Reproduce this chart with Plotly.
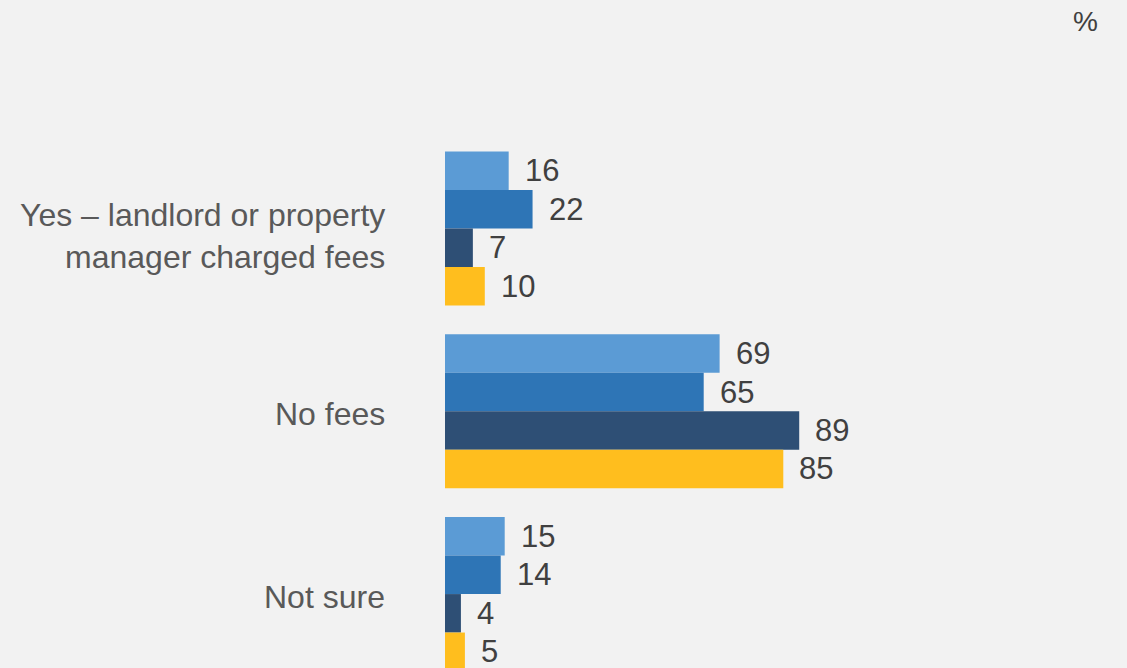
import plotly.graph_objects as go

categories = ["Yes – landlord or property<br>manager charged fees", "No fees", "Not sure"]
series_names = ["Series 1", "Series 2", "Series 3", "Series 4"]
series_values = [
    [16, 69, 15],
    [22, 65, 14],
    [7, 89, 4],
    [10, 85, 5],
]
series_colors = ["#5B9BD5", "#2E75B6", "#2E4F75", "#FFBE1E"]
unit_label = "%"

W, H = 1127, 668
plot_left = 445
px_per_unit = 3.98
x_max = 100
plot_right = plot_left + px_per_unit * x_max
group_pitch = 183
plot_top = 136.5
bargap = 0.158
FONT = "Liberation Sans, Arial"

fig = go.Figure()
for name, vals, color in zip(series_names, series_values, series_colors):
    fig.add_trace(go.Bar(
        y=categories, x=vals, name=name, orientation="h",
        marker=dict(color=color, line=dict(width=0)),
        hoverinfo="x+name",
    ))

# value labels placed just past each bar end
n = len(series_names)
for i, vals in enumerate(series_values):
    for j, v in enumerate(vals):
        offset = (i - (n - 1) / 2) * (1 - bargap) / n
        fig.add_annotation(
            x=v, y=j + offset, xref="x", yref="y",
            text=str(v), showarrow=False, xanchor="left", yanchor="middle",
            xshift=14, font=dict(family=FONT, size=31, color="#404040"),
        )

# category labels to the left of each bar group
for j, cat in enumerate(categories):
    two_line = "<br>" in cat
    fig.add_annotation(
        x=0, y=j, xref="paper", yref="y", text=cat, showarrow=False,
        xanchor="right", yanchor="middle", align="right",
        xshift=-58, yshift=-8 if two_line else -3,
        font=dict(family=FONT, size=32, color="#595959"),
    )

# unit marker in the top-right corner
fig.add_annotation(
    x=(1085 - plot_left) / (plot_right - plot_left),
    y=1 + (plot_top - 21) / (H - plot_top),
    xref="paper", yref="paper", text=unit_label, showarrow=False,
    xanchor="center", yanchor="middle",
    font=dict(family=FONT, size=28, color="#404040"),
)

y_bottom = 2.5 - (plot_top + 3 * group_pitch - H) / group_pitch

fig.update_layout(
    width=W, height=H,
    margin=dict(l=plot_left, r=W - plot_right, t=plot_top, b=0, pad=0),
    paper_bgcolor="#F2F2F2", plot_bgcolor="#F2F2F2",
    barmode="group", bargap=bargap, bargroupgap=0,
    showlegend=False,
    xaxis=dict(range=[0, x_max], visible=False, fixedrange=True),
    yaxis=dict(
        type="category", categoryorder="array", categoryarray=categories,
        range=[y_bottom, -0.5], showgrid=False, zeroline=False, showline=False,
        ticks="", showticklabels=False,
    ),
    font=dict(family=FONT),
)

fig.write_html("out.html")
